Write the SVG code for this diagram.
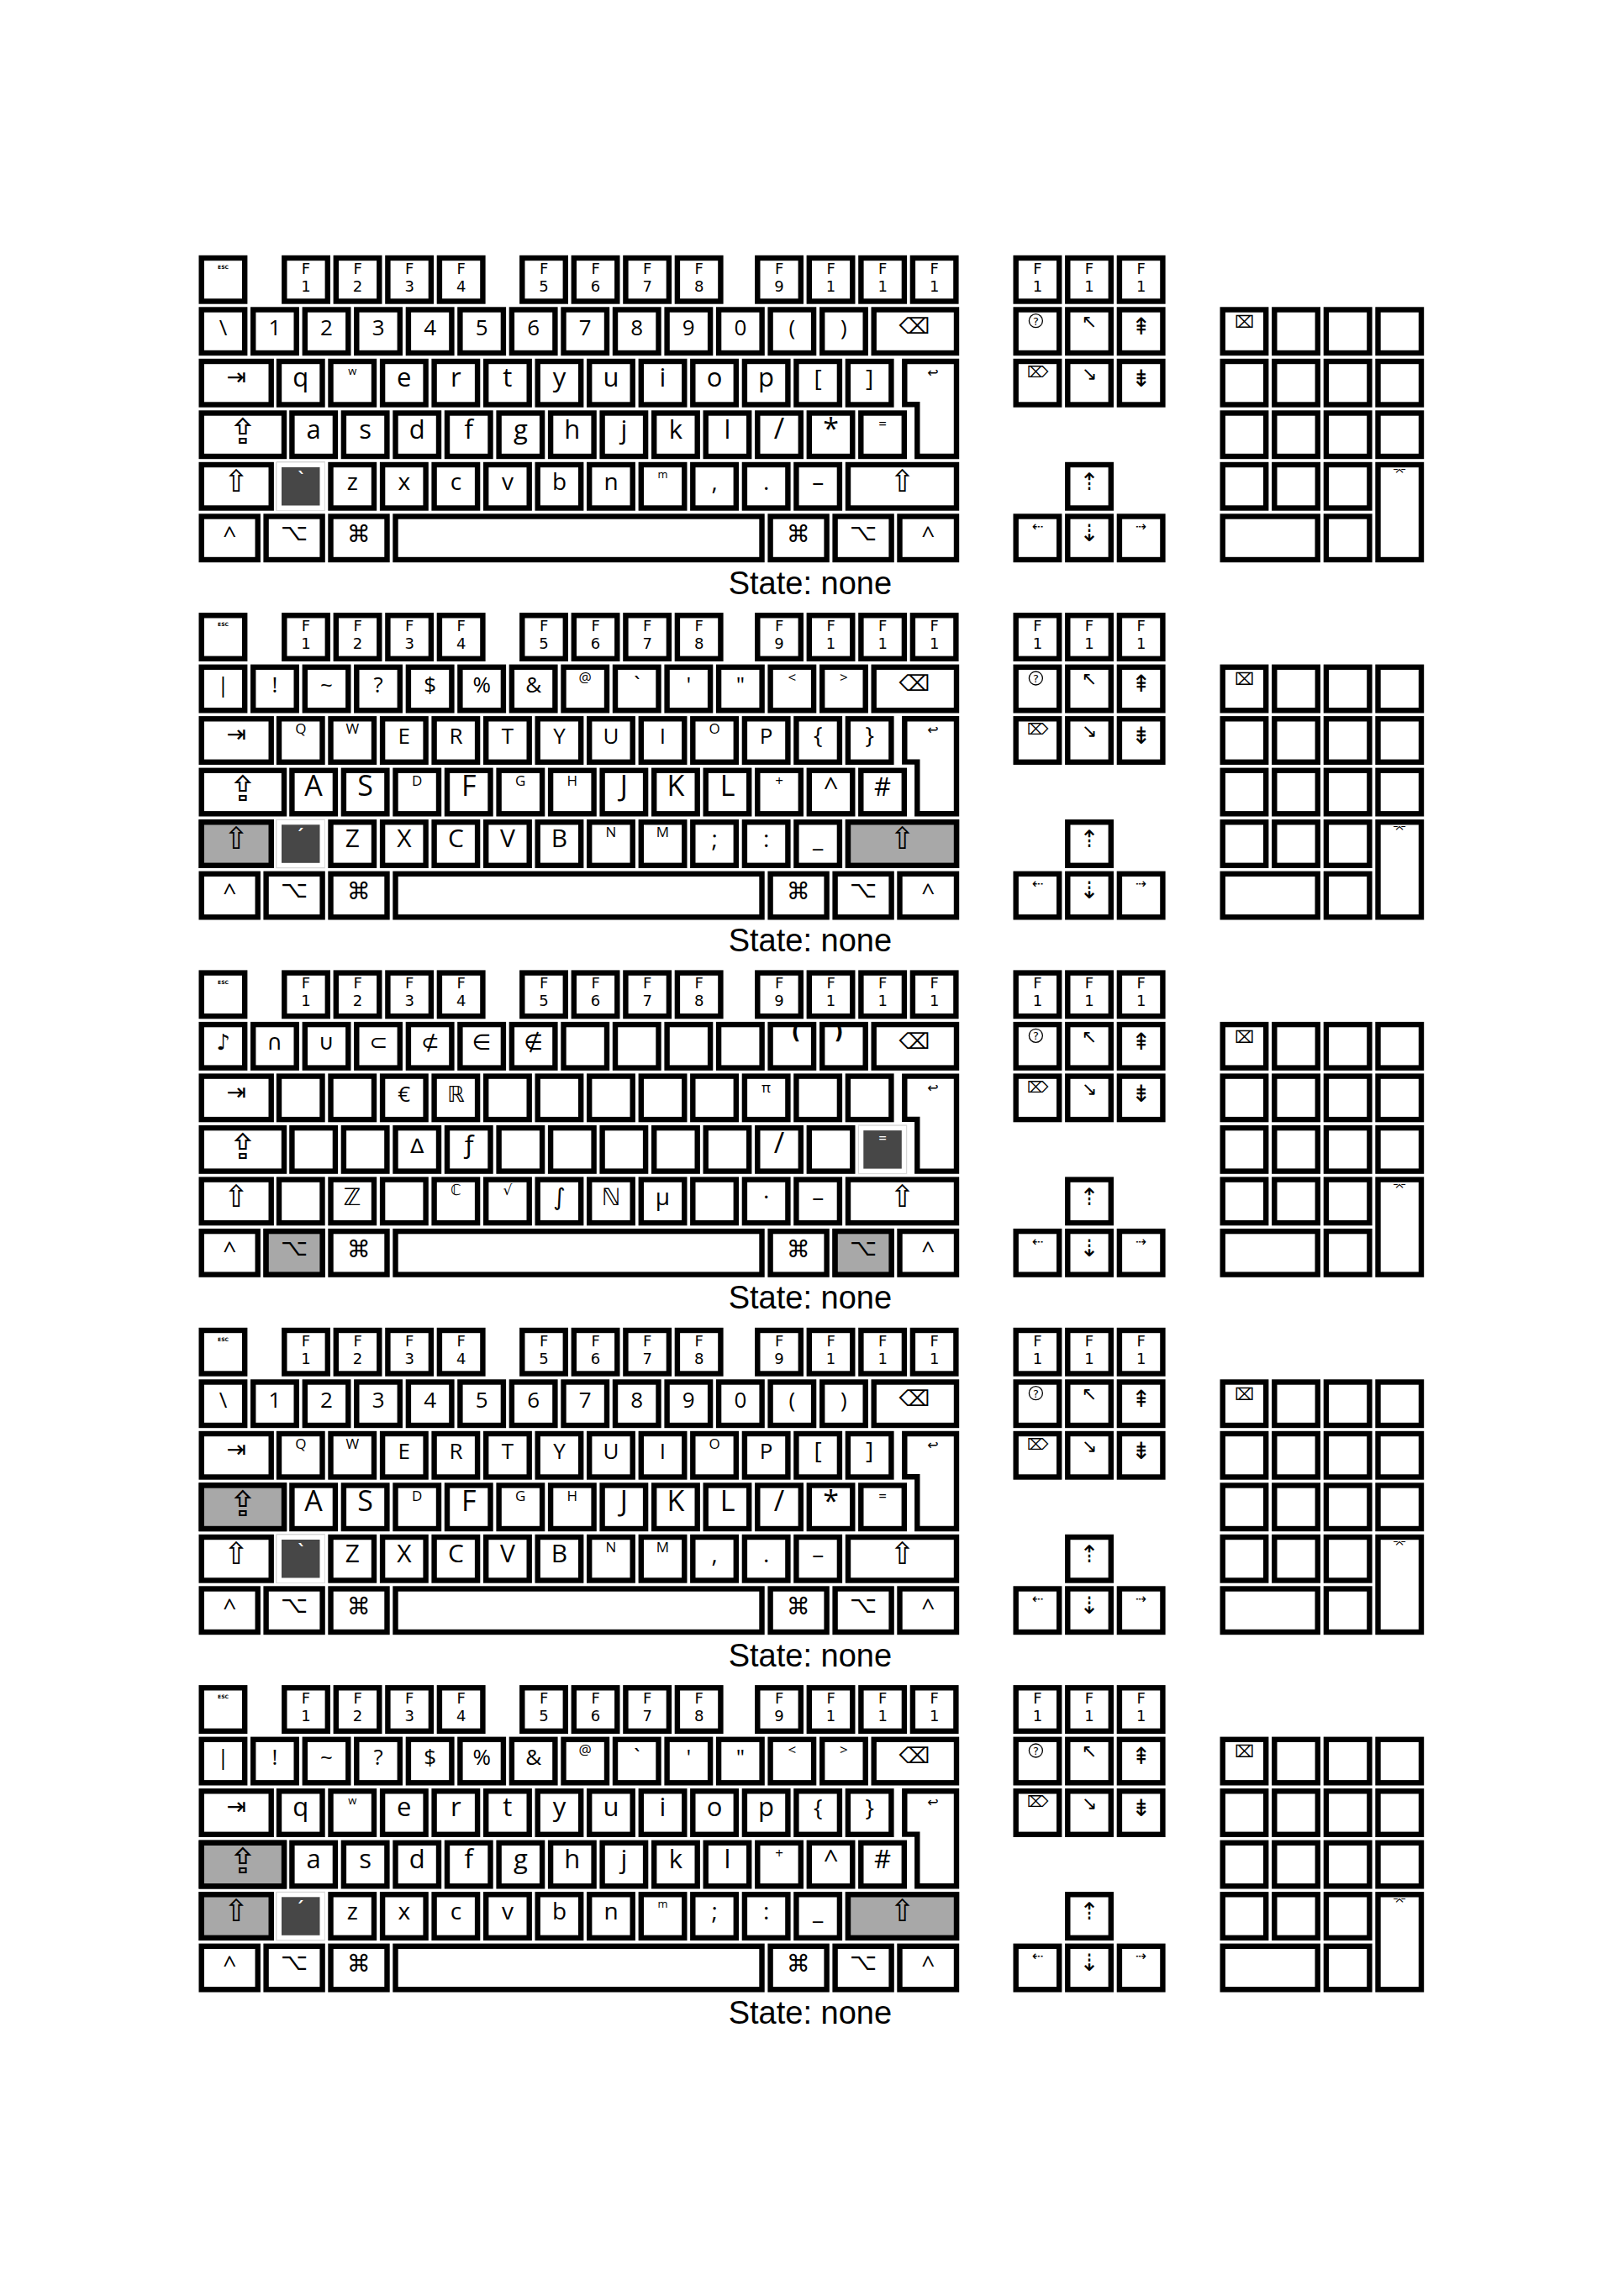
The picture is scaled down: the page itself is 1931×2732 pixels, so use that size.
<svg xmlns="http://www.w3.org/2000/svg" width="1931" height="2732" viewBox="0 0 1931 2732">
<style>
.k{fill:#fff;stroke:#000;stroke-width:6.4}
.g{fill:#a8a8a8;stroke:#000;stroke-width:6.4}
text{text-anchor:middle;fill:#000}
.dv{font-family:'DejaVu Sans',sans-serif}
.fk{font-family:'DejaVu Sans',sans-serif;font-size:18px}
.a26{font-family:'Open Sans','DejaVu Sans',sans-serif;font-size:26px}
.a28{font-family:'Open Sans','DejaVu Sans',sans-serif;font-size:28px}
.a30{font-family:'Open Sans','DejaVu Sans',sans-serif;font-size:30px}
.a31{font-family:'Open Sans','DejaVu Sans',sans-serif;font-size:31px}
.a34{font-family:'Open Sans','DejaVu Sans',sans-serif;font-size:34px}
.s17{font-family:'Open Sans','DejaVu Sans',sans-serif;font-size:17px}
.s13{font-family:'Open Sans','DejaVu Sans',sans-serif;font-size:13px}
.wd{font-family:'Open Sans','DejaVu Sans',sans-serif;font-size:26px;fill:#fff}
.ws{font-family:'Open Sans','DejaVu Sans',sans-serif;font-size:17px;fill:#fff}
.st{font-family:'Liberation Sans',Arial,sans-serif;font-size:38px;text-anchor:start}
</style>
<defs>
<rect id="u" class="k" width="51.5" height="51.5"/>
<g id="dk"><rect x="0" y="0" width="57.5" height="57.5" fill="#fff" stroke="#dcdcdc" stroke-width="1"/><rect x="6" y="6" width="45.5" height="45.5" fill="#474747"/></g>
<g id="frame">
<use href="#u" x="239.7" y="307"/><use href="#u" x="338.3" y="307"/><use href="#u" x="399.8" y="307"/><use href="#u" x="461.4" y="307"/><use href="#u" x="522.9" y="307"/><use href="#u" x="621.3" y="307"/><use href="#u" x="682.8" y="307"/><use href="#u" x="744.4" y="307"/><use href="#u" x="805.9" y="307"/><use href="#u" x="901.3" y="307"/><use href="#u" x="962.8" y="307"/><use href="#u" x="1024.4" y="307"/><use href="#u" x="1085.9" y="307"/>
<use href="#u" x="239.7" y="368.5"/><use href="#u" x="301.2" y="368.5"/><use href="#u" x="362.8" y="368.5"/><use href="#u" x="424.3" y="368.5"/><use href="#u" x="485.9" y="368.5"/><use href="#u" x="547.4" y="368.5"/><use href="#u" x="608.9" y="368.5"/><use href="#u" x="670.5" y="368.5"/><use href="#u" x="732" y="368.5"/><use href="#u" x="793.6" y="368.5"/><use href="#u" x="855.1" y="368.5"/><use href="#u" x="916.6" y="368.5"/><use href="#u" x="978.2" y="368.5"/>
<rect class="k" x="1039.7" y="368.5" width="98.3" height="51.5"/>
<rect class="k" x="239.7" y="430" width="83" height="51.5"/>
<use href="#u" x="332" y="430"/><use href="#u" x="393.5" y="430"/><use href="#u" x="455.1" y="430"/><use href="#u" x="516.6" y="430"/><use href="#u" x="578.2" y="430"/><use href="#u" x="639.7" y="430"/><use href="#u" x="701.2" y="430"/><use href="#u" x="762.8" y="430"/><use href="#u" x="824.3" y="430"/><use href="#u" x="885.9" y="430"/><use href="#u" x="947.4" y="430"/><use href="#u" x="1008.9" y="430"/>
<polygon class="k" points="1076.3,430 1138,430 1138,543 1091.3,543 1091.3,481.3 1076.3,481.3"/>
<rect class="k" x="239.7" y="491.5" width="98.3" height="51.5"/>
<use href="#u" x="347.4" y="491.5"/><use href="#u" x="408.9" y="491.5"/><use href="#u" x="470.5" y="491.5"/><use href="#u" x="532" y="491.5"/><use href="#u" x="593.6" y="491.5"/><use href="#u" x="655.1" y="491.5"/><use href="#u" x="716.6" y="491.5"/><use href="#u" x="778.2" y="491.5"/><use href="#u" x="839.7" y="491.5"/><use href="#u" x="901.3" y="491.5"/><use href="#u" x="962.8" y="491.5"/><use href="#u" x="1024.3" y="491.5"/>
<rect class="k" x="239.7" y="553" width="83" height="51.5"/>
<use href="#u" x="332" y="553"/><use href="#u" x="393.5" y="553"/><use href="#u" x="455.1" y="553"/><use href="#u" x="516.6" y="553"/><use href="#u" x="578.2" y="553"/><use href="#u" x="639.7" y="553"/><use href="#u" x="701.2" y="553"/><use href="#u" x="762.8" y="553"/><use href="#u" x="824.3" y="553"/><use href="#u" x="885.9" y="553"/><use href="#u" x="947.4" y="553"/>
<rect class="k" x="1009" y="553" width="129" height="51.5"/>
<rect class="k" x="239.7" y="614.5" width="67" height="51.5"/><rect class="k" x="316.6" y="614.5" width="67" height="51.5"/><rect class="k" x="393.5" y="614.5" width="67" height="51.5"/><rect class="k" x="470.5" y="614.5" width="436" height="51.5"/><rect class="k" x="916.6" y="614.5" width="67" height="51.5"/><rect class="k" x="993.6" y="614.5" width="67" height="51.5"/><rect class="k" x="1070.5" y="614.5" width="67.5" height="51.5"/>
<use href="#u" x="1208.7" y="307"/><use href="#u" x="1270.3" y="307"/><use href="#u" x="1331.9" y="307"/>
<use href="#u" x="1208.7" y="368.5"/><use href="#u" x="1270.3" y="368.5"/><use href="#u" x="1331.9" y="368.5"/>
<use href="#u" x="1208.7" y="430"/><use href="#u" x="1270.3" y="430"/><use href="#u" x="1331.9" y="430"/>
<use href="#u" x="1270.3" y="553"/>
<use href="#u" x="1208.7" y="614.5"/><use href="#u" x="1270.3" y="614.5"/><use href="#u" x="1331.9" y="614.5"/>
<use href="#u" x="1454.7" y="368.5"/><use href="#u" x="1516.3" y="368.5"/><use href="#u" x="1577.9" y="368.5"/><use href="#u" x="1639.5" y="368.5"/>
<use href="#u" x="1454.7" y="430"/><use href="#u" x="1516.3" y="430"/><use href="#u" x="1577.9" y="430"/><use href="#u" x="1639.5" y="430"/>
<use href="#u" x="1454.7" y="491.5"/><use href="#u" x="1516.3" y="491.5"/><use href="#u" x="1577.9" y="491.5"/><use href="#u" x="1639.5" y="491.5"/>
<use href="#u" x="1454.7" y="553"/><use href="#u" x="1516.3" y="553"/><use href="#u" x="1577.9" y="553"/>
<rect class="k" x="1639.5" y="553" width="51.5" height="113"/>
<rect class="k" x="1454.7" y="614.5" width="113" height="51.5"/><use href="#u" x="1577.9" y="614.5"/>
<text class="dv" x="265.5" y="320" font-size="6" font-weight="bold">ESC</text>
<g class="fk">
<text x="364" y="325.7">F<tspan x="364" dy="21">1</tspan></text>
<text x="425.6" y="325.7">F<tspan x="425.6" dy="21">2</tspan></text>
<text x="487.2" y="325.7">F<tspan x="487.2" dy="21">3</tspan></text>
<text x="548.7" y="325.7">F<tspan x="548.7" dy="21">4</tspan></text>
<text x="647.1" y="325.7">F<tspan x="647.1" dy="21">5</tspan></text>
<text x="708.6" y="325.7">F<tspan x="708.6" dy="21">6</tspan></text>
<text x="770.2" y="325.7">F<tspan x="770.2" dy="21">7</tspan></text>
<text x="831.7" y="325.7">F<tspan x="831.7" dy="21">8</tspan></text>
<text x="927.1" y="325.7">F<tspan x="927.1" dy="21">9</tspan></text>
<text x="988.6" y="325.7">F<tspan x="988.6" dy="21">1</tspan></text>
<text x="1050.2" y="325.7">F<tspan x="1050.2" dy="21">1</tspan></text>
<text x="1111.7" y="325.7">F<tspan x="1111.7" dy="21">1</tspan></text>
<text x="1234.5" y="325.7">F<tspan x="1234.5" dy="21">1</tspan></text>
<text x="1296" y="325.7">F<tspan x="1296" dy="21">1</tspan></text>
<text x="1357.7" y="325.7">F<tspan x="1357.7" dy="21">1</tspan></text>
</g>
<text class="dv" x="281.2" y="458" font-size="28">⇥</text>
<text class="dv" x="1088" y="397" font-size="26">⌫</text>
<text class="dv" x="1110" y="449" font-size="16">↩</text>
<text class="a28" x="273.2" y="646">^</text>
<text class="a28" x="1104.2" y="646">^</text>
<text class="dv" x="427" y="645" font-size="28">⌘</text>
<text class="dv" x="950.1" y="645" font-size="28">⌘</text>
<circle cx="1232.4" cy="381.7" r="8" fill="none" stroke="#000" stroke-width="1.3"/>
<text class="dv" x="1232.4" y="386.5" font-size="13">?</text>
<text class="dv" x="1296" y="390" font-size="22">↖</text>
<text class="dv" x="1357.7" y="398" font-size="28">⇞</text>
<text class="dv" x="1234.5" y="449" font-size="18">⌦</text>
<text class="dv" x="1296" y="452" font-size="22">↘</text>
<text class="dv" x="1357.7" y="460" font-size="28">⇟</text>
<text class="dv" x="1296" y="583" font-size="28">⇡</text>
<text class="dv" x="1234.5" y="632" font-size="16">⇠</text>
<text class="dv" x="1296" y="644" font-size="28">⇣</text>
<text class="dv" x="1357.7" y="632" font-size="16">⇢</text>
<text class="dv" x="1480.5" y="390" font-size="20">⌧</text>
<text class="dv" x="1665" y="566" font-size="14">⌤</text>
</g>
<g id="mods">
<text class="dv" x="288.9" y="528" font-size="42">⇪</text>
<text class="dv" x="281.2" y="585" font-size="36">⇧</text>
<text class="dv" x="1073.5" y="585" font-size="36">⇧</text>
<text class="dv" x="350.1" y="643" font-size="28">⌥</text>
<text class="dv" x="1027.1" y="643" font-size="28">⌥</text>
</g>
<g id="r1n" class="a26">
<text x="265.5" y="398.5">\</text><text x="327" y="398.5">1</text><text x="388.5" y="398.5">2</text><text x="450.1" y="398.5">3</text><text x="511.6" y="398.5">4</text><text x="573.2" y="398.5">5</text><text x="634.7" y="398.5">6</text><text x="696.2" y="398.5">7</text><text x="757.8" y="398.5">8</text><text x="819.3" y="398.5">9</text><text x="880.9" y="398.5">0</text><text x="942.4" y="398.5">(</text><text x="1003.9" y="398.5">)</text>
</g>
<g id="r1s">
<g class="a26"><text x="265.5" y="398.5">|</text><text x="327" y="398.5">!</text><text x="388.5" y="398.5">~</text><text x="450.1" y="398.5">?</text><text x="511.6" y="398.5">$</text><text x="573.2" y="398.5">%</text><text x="634.7" y="398.5">&amp;</text><text x="757.8" y="398.5">`</text><text x="819.3" y="398.5">'</text><text x="880.9" y="398.5">"</text></g>
<g class="s17"><text x="696.2" y="386.5">@</text><text x="942.4" y="386.5">&lt;</text><text x="1003.9" y="386.5">&gt;</text></g>
</g>
<g id="r2U">
<g class="s17"><text x="357.8" y="448">Q</text><text x="419.3" y="448">W</text><text x="850.1" y="448">O</text></g>
<g class="a26"><text x="480.8" y="460">E</text><text x="542.4" y="460">R</text><text x="603.9" y="460">T</text><text x="665.5" y="460">Y</text><text x="727" y="460">U</text><text x="788.5" y="460">I</text><text x="911.6" y="460">P</text></g>
</g>
<g id="r2l">
<text class="s13" x="419.3" y="445.5">w</text>
<g class="a31"><text x="357.8" y="460">q</text><text x="480.8" y="460">e</text><text x="542.4" y="460">r</text><text x="603.9" y="460">t</text><text x="665.5" y="460">y</text><text x="727" y="460">u</text><text x="788.5" y="460">i</text><text x="850.1" y="460">o</text><text x="911.6" y="460">p</text></g>
</g>
<g id="r3U">
<g class="a34"><text x="373.1" y="521.5">A</text><text x="434.7" y="521.5">S</text><text x="557.8" y="521.5">F</text><text x="742.4" y="521.5">J</text><text x="803.9" y="521.5">K</text><text x="865.5" y="521.5">L</text></g>
<g class="s17"><text x="496.2" y="509.5">D</text><text x="619.3" y="509.5">G</text><text x="680.8" y="509.5">H</text></g>
</g>
<g id="r3l" class="a31">
<text x="373.1" y="521.5">a</text><text x="434.7" y="521.5">s</text><text x="496.2" y="521.5">d</text><text x="557.8" y="521.5">f</text><text x="619.3" y="521.5">g</text><text x="680.8" y="521.5">h</text><text x="742.4" y="521.5">j</text><text x="803.9" y="521.5">k</text><text x="865.5" y="521.5">l</text>
</g>
<g id="r3pn"><g class="a34"><text x="927" y="521.5">/</text><text x="988.6" y="521.5">*</text></g><text class="s17" x="1050.1" y="509.5">=</text></g>
<g id="r3ps"><text class="s17" x="927" y="509.5">+</text><g class="a31"><text x="988.6" y="521.5">^</text><text x="1050.1" y="521.5">#</text></g></g>
<g id="r4U">
<g class="a30"><text x="419.3" y="583">Z</text><text x="480.8" y="583">X</text><text x="542.4" y="583">C</text><text x="603.9" y="583">V</text><text x="665.5" y="583">B</text></g>
<g class="s17"><text x="727" y="571">N</text><text x="788.5" y="571">M</text></g>
</g>
<g id="r4l">
<g class="a28"><text x="419.3" y="583">z</text><text x="480.8" y="583">x</text><text x="542.4" y="583">c</text><text x="603.9" y="583">v</text><text x="665.5" y="583">b</text><text x="727" y="583">n</text></g>
<text class="s13" x="788.5" y="568.5">m</text>
</g>
<g id="r4pn" class="a28"><text x="850.1" y="583">,</text><text x="911.6" y="583">.</text><text x="973.2" y="583">–</text></g>
<g id="r4ps" class="a28"><text x="850.1" y="583">;</text><text x="911.6" y="583">:</text><text x="973.2" y="583">_</text></g>
</defs>

<g id="kb1">
<use href="#frame"/>
<use href="#dk" x="329" y="550"/>
<text class="wd" x="357.8" y="580">`</text>
<use href="#mods"/>
<use href="#r1n"/><use href="#r2l"/>
<g class="a28"><text x="973.2" y="460">[</text><text x="1034.7" y="460">]</text></g>
<use href="#r3l"/><use href="#r3pn"/><use href="#r4l"/><use href="#r4pn"/>
<text class="st" x="866.7" y="706.7">State: none</text>
</g>

<g id="kb2" transform="translate(0,425.3)">
<use href="#frame"/>
<rect class="g" x="239.7" y="553" width="83" height="51.5"/>
<rect class="g" x="1009" y="553" width="129" height="51.5"/>
<use href="#dk" x="329" y="550"/>
<text class="wd" x="357.8" y="580">´</text>
<use href="#mods"/>
<use href="#r1s"/><use href="#r2U"/>
<g class="a28"><text x="973.2" y="460">{</text><text x="1034.7" y="460">}</text></g>
<use href="#r3U"/><use href="#r3ps"/><use href="#r4U"/><use href="#r4ps"/>
<text class="st" x="866.7" y="706.7">State: none</text>
</g>

<g id="kb3" transform="translate(0,850.6)">
<use href="#frame"/>
<rect class="g" x="316.6" y="614.5" width="67" height="51.5"/>
<rect class="g" x="993.6" y="614.5" width="67" height="51.5"/>
<use href="#dk" x="1021.3" y="488.5"/>
<text class="ws" x="1050.1" y="509.5">=</text>
<use href="#mods"/>
<g class="dv" font-size="26"><text x="265.5" y="398.5">♪</text><text x="327" y="398.5">∩</text><text x="388.5" y="398.5">∪</text><text x="450.1" y="398.5">⊂</text><text x="511.6" y="398.5">⊄</text><text x="573.2" y="398.5">∈</text><text x="634.7" y="398.5">∉</text></g>
<g class="dv" font-size="24" font-weight="bold"><text x="947" y="385">(</text><text x="998" y="385">)</text></g>
<text class="a26" x="480.8" y="460">€</text>
<text class="dv" x="542.4" y="460" font-size="26">ℝ</text>
<text class="s17" x="911.6" y="449" font-size="20">π</text>
<text class="dv" x="496.2" y="521" font-size="24">∆</text>
<text class="a31" x="557.8" y="521.5">ƒ</text>
<text class="a34" x="927" y="521.5">/</text>
<text class="dv" x="419.3" y="583" font-size="28">ℤ</text>
<text class="dv" x="542.4" y="571" font-size="18">ℂ</text>
<text class="dv" x="603.9" y="571" font-size="17">√</text>
<text class="dv" x="665.5" y="583" font-size="28">∫</text>
<text class="dv" x="727" y="583" font-size="28">ℕ</text>
<g class="a28"><text x="788.5" y="583">μ</text><text x="911.6" y="583">·</text><text x="973.2" y="583">–</text></g>
<text class="st" x="866.7" y="706.7">State: none</text>
</g>

<g id="kb4" transform="translate(0,1276)">
<use href="#frame"/>
<rect class="g" x="239.7" y="491.5" width="98.3" height="51.5"/>
<use href="#dk" x="329" y="550"/>
<text class="wd" x="357.8" y="580">`</text>
<use href="#mods"/>
<use href="#r1n"/><use href="#r2U"/>
<g class="a28"><text x="973.2" y="460">[</text><text x="1034.7" y="460">]</text></g>
<use href="#r3U"/><use href="#r3pn"/><use href="#r4U"/><use href="#r4pn"/>
<text class="st" x="866.7" y="706.7">State: none</text>
</g>

<g id="kb5" transform="translate(0,1701.3)">
<use href="#frame"/>
<rect class="g" x="239.7" y="491.5" width="98.3" height="51.5"/>
<rect class="g" x="239.7" y="553" width="83" height="51.5"/>
<rect class="g" x="1009" y="553" width="129" height="51.5"/>
<use href="#dk" x="329" y="550"/>
<text class="wd" x="357.8" y="580">´</text>
<use href="#mods"/>
<use href="#r1s"/><use href="#r2l"/>
<g class="a28"><text x="973.2" y="460">{</text><text x="1034.7" y="460">}</text></g>
<use href="#r3l"/><use href="#r3ps"/><use href="#r4l"/><use href="#r4ps"/>
<text class="st" x="866.7" y="706.7">State: none</text>
</g>
</svg>
